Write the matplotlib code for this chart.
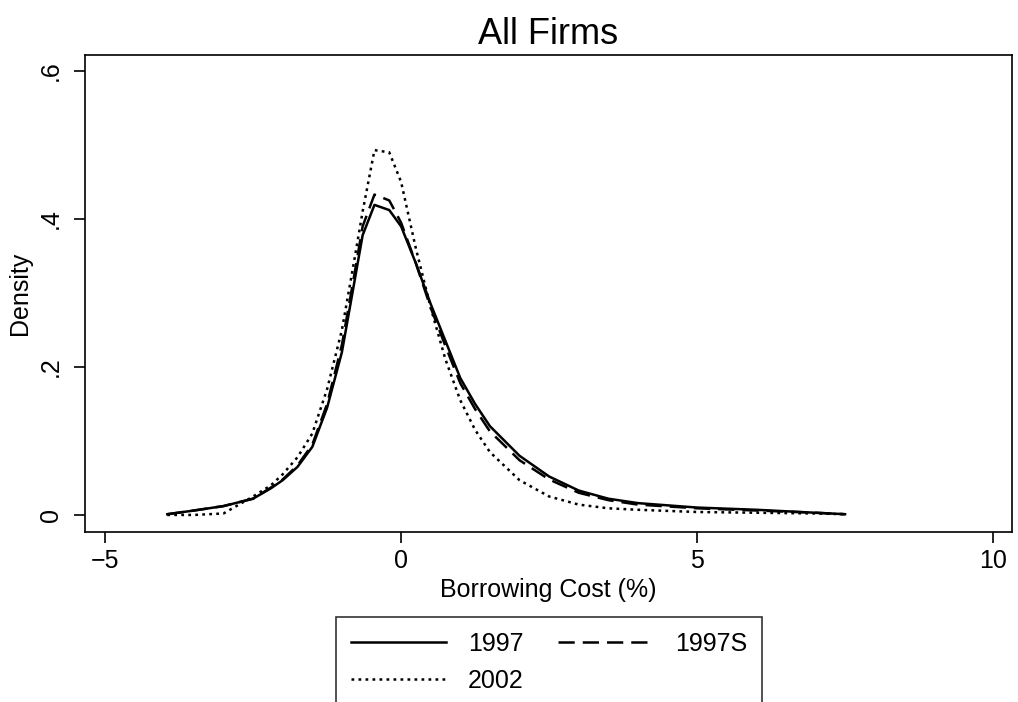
import numpy as np
import matplotlib
matplotlib.use('Agg')
import matplotlib.pyplot as plt

plt.rcParams['font.family'] = ['Liberation Sans', 'DejaVu Sans']

# Borrowing cost grid (%) and kernel density estimates
cost = [-3.95, -3.5, -3.0, -2.5, -2.2, -2.0, -1.75, -1.5, -1.25, -1.0, -0.8, -0.65,
        -0.45, -0.2, 0.0, 0.25, 0.5, 0.75, 1.0, 1.25, 1.5, 2.0, 2.5, 3.0, 3.5, 4.0,
        5.0, 6.0, 7.0, 7.5]
dens_1997 = [0.001, 0.006, 0.012, 0.022, 0.036, 0.047, 0.065, 0.092, 0.145, 0.22, 0.31, 0.378,
             0.419, 0.412, 0.39, 0.34, 0.285, 0.235, 0.185, 0.15, 0.12, 0.08, 0.052, 0.033,
             0.022, 0.016, 0.010, 0.007, 0.003, 0.001]
dens_1997s = [0.001, 0.006, 0.012, 0.022, 0.037, 0.048, 0.067, 0.095, 0.15, 0.23, 0.32, 0.39,
              0.433, 0.425, 0.395, 0.34, 0.28, 0.228, 0.178, 0.143, 0.113, 0.074, 0.048, 0.030,
              0.020, 0.014, 0.009, 0.006, 0.003, 0.001]
dens_2002 = [0.0, 0.0, 0.002, 0.025, 0.04, 0.055, 0.078, 0.11, 0.17, 0.25, 0.34, 0.41,
             0.493, 0.49, 0.45, 0.36, 0.28, 0.21, 0.155, 0.115, 0.085, 0.047, 0.025, 0.014,
             0.009, 0.007, 0.004, 0.003, 0.002, 0.001]
labels = ['1997', '1997S', '2002']

x_ticks = [-5, 0, 5, 10]
y_ticks = [0, 0.2, 0.4, 0.6]
y_ticklabels = ['0', '.2', '.4', '.6']

fig = plt.figure(figsize=(10.18, 7.02), dpi=100)
ax = fig.add_axes([0.0835, 0.2422, 0.9106, 0.6795])

l1, = ax.plot(cost, dens_1997, color='black', lw=1.8, linestyle='-')
l2, = ax.plot(cost, dens_1997s, color='black', lw=1.8, linestyle=(0, (6.5, 3.2)))
l3, = ax.plot(cost, dens_2002, color='black', lw=1.8, linestyle=(0, (1.1, 1.7)))

ax.set_xlim(-5.34, 10.32)
ax.set_ylim(-0.023, 0.6216)
ax.set_xticks(x_ticks)
ax.set_xticklabels(['\u22125', '0', '5', '10'])
ax.set_yticks(y_ticks)
ax.set_yticklabels(y_ticklabels, rotation=90, va='center')
ax.tick_params(axis='both', direction='out', length=8, width=1.2, labelsize=18)
ax.tick_params(axis='x', pad=4)
ax.tick_params(axis='y', pad=8)
for s in ax.spines.values():
    s.set_linewidth(1.2)
    s.set_color('black')

ax.set_xlabel('Borrowing Cost (%)', fontsize=18, labelpad=4)
ax.set_ylabel('Density', fontsize=18, labelpad=5)
ax.set_title('All Firms', fontsize=26, pad=8)

# legend box below the plot, filled row by row, clipped at the bottom as in the reference
leg = fig.legend([l1, l3, l2], [labels[0], labels[2], labels[1]], ncol=2, loc='upper center',
                 bbox_to_anchor=(0.5395, 1 - 617 / 702), fontsize=18,
                 frameon=True, fancybox=False, edgecolor='black',
                 handlelength=3.8, handletextpad=0.85, columnspacing=1.4,
                 borderpad=0.6, labelspacing=0.5, borderaxespad=0)
leg.get_frame().set_linewidth(1.2)

fig.savefig('out.png', dpi=100)
